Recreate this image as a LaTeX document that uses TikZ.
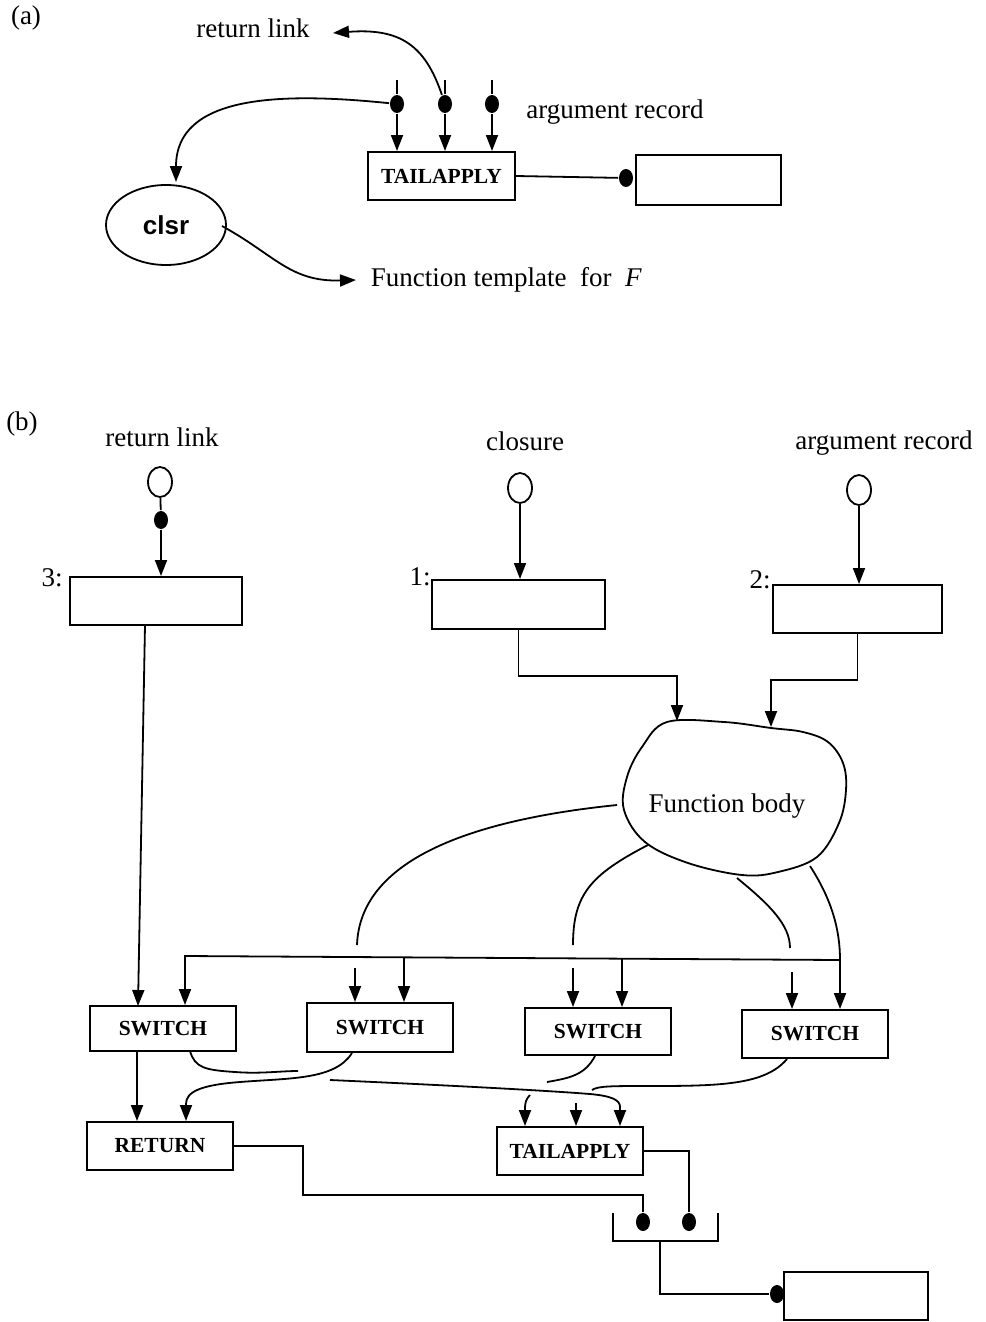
\documentclass[tikz,border=0pt]{standalone}
\usepackage{fontspec}
\setmainfont{Liberation Serif}
\newfontfamily\sansf{Liberation Sans}
\usetikzlibrary{arrows.meta,shapes.geometric,calc}
\begin{document}
\begin{tikzpicture}[x=1pt,y=-1pt,line width=1.8pt,
  lbl/.style={font=\fontsize{27}{30}\selectfont,inner sep=0pt},
  opbox/.style={draw,line width=2pt,minimum width=146pt,minimum height=47pt,inner sep=0pt,font=\bfseries\fontsize{21.5}{24}\selectfont},
  emptybox/.style={draw,line width=2pt,inner sep=0pt},
  dotn/.style={ellipse,fill=black,inner sep=0pt,minimum width=14pt,minimum height=18pt},
  opencirc/.style={ellipse,draw,fill=white,inner sep=0pt,minimum width=24pt,minimum height=30pt},
  >={Triangle[width=12pt,length=16pt]}]
\fill[white] (0,0) rectangle (985,1322);
\useasboundingbox (0,0) rectangle (985,1322);

% ---------------- (a) ----------------
\node[lbl] (alab) at (26,18) {(a)};
\node[lbl] (rla) at (253,28) {return link};
\node[lbl] (arga) at (615,112) {argument record};
\node[dotn] (da1) at (397,104) {};
\node[dotn] (da2) at (445,104) {};
\node[dotn] (da3) at (492,104) {};
\node[opbox,minimum height=48pt,minimum width=147pt] (taa) at (441.5,176) {TAILAPPLY};
\node[dotn] (da4) at (626,178) {};
\node[emptybox,minimum width=145pt,minimum height=50pt] (boxa) at (708.5,180) {};
\node[ellipse,draw,minimum width=120pt,minimum height=80pt,inner sep=0pt,font=\sansf\bfseries\fontsize{26}{30}\selectfont] (clsr) at (166,225) {clsr};
\node[lbl,anchor=west] (fta) at (370,280) {Function template\ \ for\ \ \textit{F}};

\coordinate (ta1) at (397,80);
\coordinate (ta2) at (445,80);
\coordinate (ta3) at (492,80);
\draw (ta1) -- (da1);
\draw (ta2) -- (da2);
\draw (ta3) -- (da3);
\draw[->] (da1) -- (taa.north -| da1);
\draw[->] (da2) -- (taa.north -| da2);
\draw[->] (da3) -- (taa.north -| da3);
\coordinate (rltip) at (333,33);
\draw[->] (da2) .. controls (425,45) and (400,28) .. (rltip);
\coordinate (clsrin) at (176,182);
\draw[->] (da1) .. controls (280,92) and (176,95) .. (clsrin);
\coordinate (clsrout) at (222,226);
\coordinate (fttip) at (356,280);
\draw[->] (clsrout) .. controls (275,255) and (290,282) .. (fttip);
\draw (taa.east) -- (da4);

% ---------------- (b) ----------------
\node[lbl] (blab) at (22,424) {(b)};
\node[lbl] (rlb) at (162,437) {return link};
\node[lbl] (clb) at (525,441) {closure};
\node[lbl] (argb) at (884,443) {argument record};

\node[opencirc] (c1) at (160,482) {};
\node[opencirc] (c2) at (520,488) {};
\node[opencirc] (c3) at (859,490) {};
\node[dotn] (dr) at (161,520) {};

\node[emptybox,minimum width=172pt,minimum height=48pt] (b3) at (156,601) {};
\node[emptybox,minimum width=173pt,minimum height=49pt] (b1) at (518.5,604.5) {};
\node[emptybox,minimum width=169pt,minimum height=48pt] (b2) at (857.5,609) {};
\node[lbl] (l3) at (52,578) {3:};
\node[lbl] (l1) at (420,577) {1:};
\node[lbl] (l2) at (760,580) {2:};

\draw (c1) -- (dr);
\draw[->] (dr) -- (b3.north -| dr);
\draw[->] (c2) -- (b1.north -| c2);
\draw[->] (c3) -- (b2.north -| c3);

% function body blob
\draw plot[smooth cycle,tension=0.6] coordinates {(667,722) (724,722) (771,728) (803,732) (828,742) (843,763) (846,790) (839,823) (817,857) (778,872) (742,875) (688,863) (645,842) (624,810) (627,777) (642,747)};
\node[lbl] (fb) at (727,806) {Function body};
\coordinate (fbin1) at (677,721);
\coordinate (fbin2) at (771,727);
\draw[->] (b1.south) -- ++(0,46) -| (fbin1);
\draw[->] (b2.south) -- ++(0,46) -| (fbin2);

% switches
\node[opbox,minimum height=45pt] (s1) at (163,1028.5) {SWITCH};
\node[opbox,minimum height=49pt] (s2) at (380,1027.5) {SWITCH};
\node[opbox] (s3) at (598,1031.5) {SWITCH};
\node[opbox,minimum height=48pt] (s4) at (815,1034) {SWITCH};
\node[opbox,minimum height=48pt] (ret) at (160,1146) {RETURN};
\node[opbox,minimum height=48pt] (tab) at (570,1151) {TAILAPPLY};

% return link box down to first switch
\coordinate (b3o) at (145,625);
\coordinate (s1in) at (138,1006);
\draw[->] (b3o) -- (s1in);

% curves from the function body
\coordinate (fa) at (617,805);
\coordinate (fae) at (357,945);
\coordinate (fas) at (355,968);
\draw (fa) .. controls (470,820) and (360,860) .. (fae);
\draw[->] (fas) -- (s2.north -| fas);
\coordinate (fbo) at (648,845);
\coordinate (fbe) at (573,945);
\coordinate (fbs) at (573,968);
\draw (fbo) .. controls (590,875) and (573,895) .. (fbe);
\draw[->] (fbs) -- (s3.north -| fbs);
\coordinate (fc) at (737,878);
\coordinate (fce) at (790,948);
\coordinate (fcs) at (792,972);
\draw (fc) .. controls (770,905) and (790,925) .. (fce);
\draw[->] (fcs) -- (s4.north -| fcs);
\coordinate (fd) at (810,866);
\coordinate (busR) at (840,960);
\coordinate (busL) at (185,956);
\draw[->] (fd) .. controls (832,900) and (840,930) .. (busR) -- (busL) -- (s1.north -| busL);
\coordinate (bx2) at (404,957);
\coordinate (bx3) at (622,958.5);
\draw[->] (bx2) -- (s2.north -| bx2);
\draw[->] (bx3) -- (s3.north -| bx3);
\draw[->] (busR) -- (s4.north -| busR);

% switch outputs
\coordinate (s1o) at (137,1051);
\draw[->] (s1o) -- (s1o |- ret.north);
\coordinate (s1p) at (190,1051);
\coordinate (s1q) at (298,1071);
\draw (s1p) .. controls (195,1068) and (205,1070) .. (235,1072) .. controls (260,1074) and (280,1071) .. (s1q);
\coordinate (lr) at (330,1080);
\coordinate (tai3) at (620,1107);
\draw[->] (lr) .. controls (420,1084) and (540,1090) .. (590,1094) .. controls (612,1096) and (620,1100) .. (tai3) -- (tab.north -| tai3);
\coordinate (s2o) at (352,1053);
\coordinate (ri2) at (186,1104);
\draw[->] (s2o) .. controls (335,1080) and (290,1078) .. (240,1082) .. controls (200,1085) and (186,1092) .. (ri2) -- (ri2 |- ret.north);
\coordinate (s3o) at (595,1056);
\coordinate (s3e) at (547,1082);
\draw (s3o) .. controls (585,1075) and (570,1078) .. (s3e);
\coordinate (ti1) at (530,1095);
\coordinate (ti1b) at (525,1108);
\draw[->] (ti1) .. controls (526,1099) and (525,1103) .. (ti1b) -- (ti1b |- tab.north);
\coordinate (s4o) at (787,1059);
\coordinate (s4e) at (592,1090);
\draw (s4o) .. controls (765,1085) and (720,1086) .. (650,1086) .. controls (610,1086) and (598,1086) .. (s4e);
\coordinate (ti2) at (576,1103);
\draw[->] (ti2) -- (ti2 |- tab.north);

% merge bracket and result
\node[dotn] (bd1) at (643,1222) {};
\node[dotn] (bd2) at (689,1222) {};
\coordinate (brTL) at (613,1213);
\coordinate (brBR) at (718,1241);
\coordinate (brTR) at (718,1213);
\draw (brTL) |- (brBR) -- (brTR);
\coordinate (rjog) at (303,1195);
\draw (ret.east) -| (rjog) -| (bd1);
\draw (tab.east) -| (bd2);
\node[dotn] (d5) at (777,1294) {};
\node[emptybox,minimum width=144pt,minimum height=48pt] (resb) at (856,1296) {};
\coordinate (brOut) at (660,1241);
\draw (brOut) |- (d5);
\draw (d5) -- (resb.west);
\end{tikzpicture}
\end{document}
